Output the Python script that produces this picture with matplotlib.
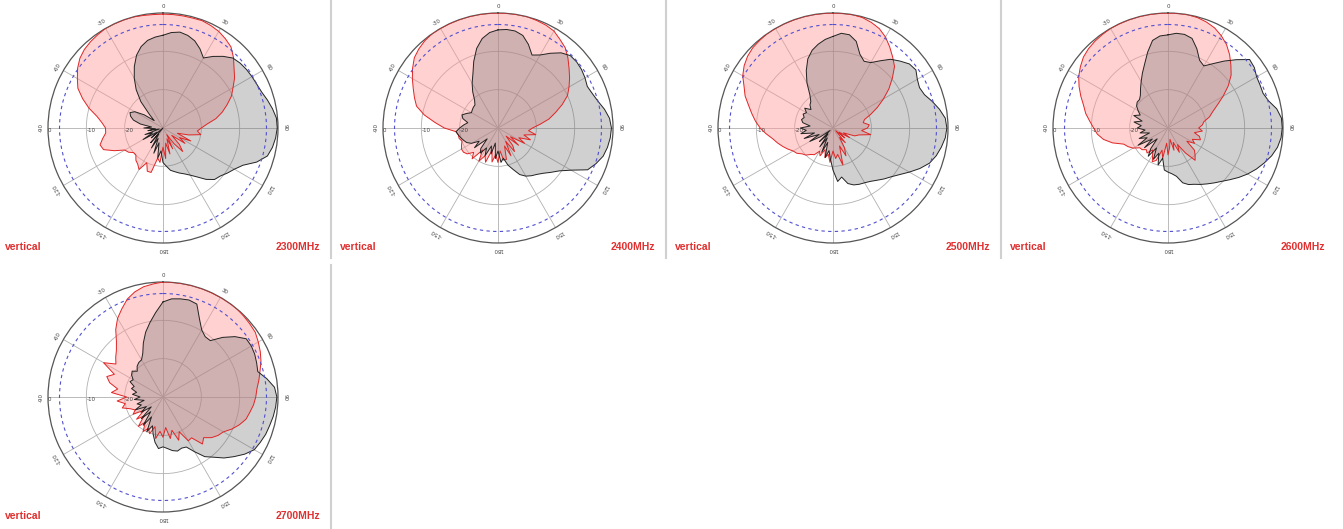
import numpy as np
import matplotlib
matplotlib.use("Agg")
import matplotlib.pyplot as plt

# angles in degrees, clockwise from top, 5 degree steps
angles = list(range(0, 360, 5))

freqs = ["2300MHz", "2400MHz", "2500MHz", "2600MHz", "2700MHz"]

# red trace (dB)
red_2300 = [-0.3, -0.3, -0.3, -0.3, -0.2, -0.5, -0.9, -1.6, -2.4, -4.0, -5.8, -7.2,
            -8.9, -10.3, -12.2, -14.0, -16, -18.5, -20, -21, -20, -23, -26, -22,
            -25, -23, -27, -24, -22, -25, -28, -24, -27, -23, -26, -22,
            -25, -21, -22, -18, -18, -20, -17.5, -18.5, -19, -20, -20, -19,
            -18.5, -16, -13.5, -13, -14, -15, -15, -14, -12.5, -10, -7.7, -5.5,
            -4.2, -2.8, -1.7, -1, -0.6, -0.3, 0, 0, 0, 0, -0.2, -0.3]
red_2400 = [0, 0, 0, 0, -0.2, -0.4, -0.8, -1.8, -2.7, -4.2, -5.8, -7.2,
            -8.6, -10, -12.2, -14.5, -16.5, -19, -21, -22, -20, -23, -21, -24,
            -22, -26, -23, -27, -24, -22.5, -26, -22, -25, -21.5, -21.5, -24,
            -21, -23, -21, -24, -20.5, -22, -20, -23, -19.5, -21, -19.5, -19,
            -19, -19.5, -20, -19.5, -19.5, -19, -16, -13.5, -10.5, -8, -6.8, -5.6,
            -4.2, -2.8, -1.5, -0.8, -0.3, 0, 0, 0, 0, 0, 0, 0]
red_2500 = [0, 0, 0, -0.2, -0.7, -1.4, -2.6, -4.2, -5.8, -7.3, -9.8, -12.2,
            -14.8, -17.2, -19.5, -21.5, -22, -20.5, -21, -22.5, -20, -23, -24, -27,
            -25, -28, -26, -29, -25, -27, -24, -22, -25, -20, -23, -22,
            -24, -21, -23, -22, -24, -22, -23, -21.5, -21, -20, -19.5, -18.5,
            -18, -17, -16, -15, -14, -12.5, -11, -9.7, -8.5, -7.2, -5.6, -4.4,
            -2.8, -1.7, -0.9, -0.4, -0.2, 0, 0, 0, 0, 0, 0, 0]
red_2600 = [0, 0, 0, -0.2, -0.6, -1.2, -2.2, -3.4, -5.0, -6.8, -8.5, -10.8,
            -13.4, -15.8, -17.6, -18.8, -20.5, -21, -22, -21, -23, -21.5, -21, -23,
            -22, -24, -21, -20, -19, -22, -25, -23, -26, -24, -27, -25,
            -23, -26, -22, -24, -21, -20.3, -22, -23, -21.5, -22, -21.2, -21,
            -19.5, -18.5, -17.7, -15, -12.9, -11.5, -10.6, -9.5, -8.2, -7.2, -5.8, -4.4,
            -3.1, -2.1, -1.2, -0.7, -0.4, -0.2, 0, 0, 0, 0, 0, 0]
red_2700 = [0, 0, 0, 0, 0, 0, 0, 0, 0, -0.2, -0.4, -0.6,
            -1.3, -2.0, -2.8, -3.8, -4.6, -5.4, -5.8, -6.3, -7.0, -7.6, -8.8, -10.2,
            -11.8, -12.5, -13.5, -15, -14, -17, -16.8, -20, -18, -21, -19, -22,
            -19.5, -21, -19, -22, -19.8, -21, -19.6, -22, -20, -23, -21, -24,
            -21, -22, -21, -19, -20, -18, -20.5, -16.5, -18, -15.6, -14.4, -16,
            -12.1, -15, -13.9, -12.8, -11.1, -8.5, -6.3, -4.6, -2.8, -1.6, -0.8, -0.4]

# grey trace (dB)
grey_2300 = [-5.8, -5.0, -4.6, -5.0, -5.8, -7.2, -8.9, -7.2, -5.6, -4.2, -3.7, -3.4,
             -3.2, -3.0, -2.6, -1.8, -1.0, -0.3, -0.2, -0.5, -1.0, -1.8, -4.0, -7.0,
             -8.5, -9.5, -10.5, -11.0, -12.5, -14.4, -15.8, -16.8, -17.5, -18.2, -18.8, -20,
             -21, -24, -22, -26, -23, -27, -24, -28, -25, -30, -26, -28,
             -24, -27, -25, -29, -26, -28, -25, -27, -24, -22, -21, -20.5,
             -21.5, -24, -27, -25, -21, -17.8, -15, -12.3, -9.8, -8, -6.8, -6.2]
grey_2400 = [-4.4, -4.2, -4.3, -5.0, -6.8, -9.0, -8.0, -6.2, -4.4, -3.3, -3.2, -3.4,
             -3.8, -4.3, -3.8, -3.0, -1.8, -0.8, -0.4, -0.6, -1.0, -1.6, -2.8, -4.2,
             -8.0, -10.5, -12.0, -13.3, -14.2, -14.8, -15.5, -16.6, -18.5, -20, -22, -21,
             -24, -22, -26, -23, -25, -22, -24, -22, -23, -26, -22, -24,
             -22, -21, -20.5, -20, -19.5, -19, -20, -21, -22, -20.5, -20, -21,
             -22, -21.8, -21.6, -21.5, -20.5, -18.5, -16.5, -14.5, -11.5, -8.5, -6.3, -5.0]
grey_2500 = [-6.1, -5.2, -5.3, -6.6, -9.5, -10.8, -10.3, -8.6, -6.6, -5.3, -4.0, -3.6,
             -4.6, -5.1, -4.6, -3.2, -1.8, -0.6, -0.3, -0.6, -1.3, -2.1, -3.2, -5.0,
             -7.0, -8.8, -10.2, -11.2, -12.2, -13.0, -13.5, -13.8, -14.2, -15.0, -17, -16,
             -19, -22, -24, -22, -26, -23, -27, -24, -28, -25, -29, -26,
             -23, -26, -22, -25, -21.5, -23, -21.5, -24, -22, -21.5, -22, -21.4,
             -22, -21, -22.5, -21.5, -21, -19.5, -16.4, -13.5, -10.8, -9.0, -7.8, -6.8]
grey_2600 = [-5.7, -5.2, -5.2, -5.8, -8.0, -10.5, -11.3, -9.5, -7.2, -4.8, -2.2, -2.5,
             -3.3, -3.5, -3.6, -2.8, -1.2, -0.3, -0.2, -0.4, -1.0, -2.0, -3.3, -4.6,
             -6.0, -7.5, -9.0, -10.3, -11.3, -12.2, -13.0, -13.8, -14.3, -15.2, -17.2, -18,
             -18.5, -19, -22, -20, -23, -21, -24, -21, -23, -26, -22, -25,
             -21, -24, -22, -25, -22.6, -24, -22, -23, -21, -23, -20.5, -22,
             -21, -20, -19.5, -19.5, -18.8, -17.5, -16, -14.2, -12.2, -9.5, -6.8, -5.9]
grey_2700 = [-5.2, -4.3, -4.0, -3.8, -4.2, -7.5, -9.8, -10.8, -10.8, -8.0, -5.5, -3.5,
             -3.4, -3.6, -4.0, -4.4, -2.5, -0.8, -0.3, -0.5, -0.8, -1.2, -1.5, -2.0,
             -2.5, -4.0, -5.8, -7.5, -9.5, -11.0, -13.5, -15.6, -15.8, -15.4, -15.8, -16.5,
             -17, -16.5, -18, -20, -22, -20, -24, -21, -25, -22, -26, -23,
             -25, -22, -24, -23, -25, -22.5, -24, -22, -23, -21.5, -22, -20.5,
             -21, -20, -19.5, -20.5, -19.5, -19, -18.8, -17.5, -15, -12.5, -10.3, -7.9]

red_traces = [red_2300, red_2400, red_2500, red_2600, red_2700]
grey_traces = [grey_2300, grey_2400, grey_2500, grey_2600, grey_2700]

W, H = 1343, 529
R = 115
centers = [(163, 128), (498, 128), (833, 128), (1168, 128), (163, 397)]

fig = plt.figure(figsize=(W / 100, H / 100), dpi=100)
fig.patch.set_facecolor("white")

theta_labels = ["0", "30", "60", "90", "120", "150", "180", "-150", "-120", "-90", "-60", "-30"]

for k, (cx, cy) in enumerate(centers):
    ax = fig.add_axes([(cx - R) / W, (H - cy - R) / H, 2 * R / W, 2 * R / H], projection="polar")
    ax.set_theta_zero_location("N")
    ax.set_theta_direction(-1)
    ax.set_ylim(-30, 0)
    ax.set_facecolor("white")

    th = np.deg2rad(angles + [angles[0]])
    red = np.array(red_traces[k] + [red_traces[k][0]])
    grey = np.array(grey_traces[k] + [grey_traces[k][0]])
    ax.fill(th, red, facecolor="#ff9a9a", alpha=0.45, edgecolor="none", zorder=2)
    ax.plot(th, red, color="#e02424", lw=0.7, zorder=4)
    ax.fill(th, grey, facecolor="#6e6e6e", alpha=0.32, edgecolor="none", zorder=3)
    ax.plot(th, grey, color="#222222", lw=0.7, zorder=4)

    # -3 dB reference
    circ = np.linspace(0, 2 * np.pi, 361)
    ax.plot(circ, np.full_like(circ, -3), color="#5050d0", lw=0.8, ls=(0, (3, 3)), zorder=5)

    ax.set_thetagrids(range(0, 360, 30), labels=[])
    ax.set_rgrids([-20, -10], labels=[])
    ax.grid(True, color="#b0b0b0", lw=0.6)
    ax.spines["polar"].set_color("#555555")
    ax.spines["polar"].set_linewidth(0.9)

    for a, lab in zip(range(0, 360, 30), theta_labels):
        ax.text(np.deg2rad(a), 1.8, lab, fontsize=4, color="#444444",
                ha="center", va="center", rotation=-a if a <= 180 else 360 - a)
    for rv, lab in [(0, "0"), (-10, "-10"), (-20, "-20")]:
        ax.text(np.deg2rad(270), rv, lab, fontsize=4, color="#444444",
                ha="left", va="top")

    left = cx - 163
    ty = cy + 119
    fig.text((left + 5) / W, 1 - ty / H, "vertical", color="#e03030", fontsize=7.5,
             fontweight="bold", family="Liberation Sans", va="center", ha="left")
    fig.text((left + 320) / W, 1 - ty / H, freqs[k], color="#e03030", fontsize=7.5,
             fontweight="bold", family="Liberation Sans", va="center", ha="right")

# panel separators
for x in [331, 666, 1001]:
    fig.add_artist(plt.Line2D([x / W, x / W], [1 - 258 / H, 1.0], color="#d0d0d0", lw=1.5))
fig.add_artist(plt.Line2D([331 / W, 331 / W], [0.0, 1 - 265 / H], color="#d0d0d0", lw=1.5))

fig.savefig("out.png", dpi=100, facecolor="white")
